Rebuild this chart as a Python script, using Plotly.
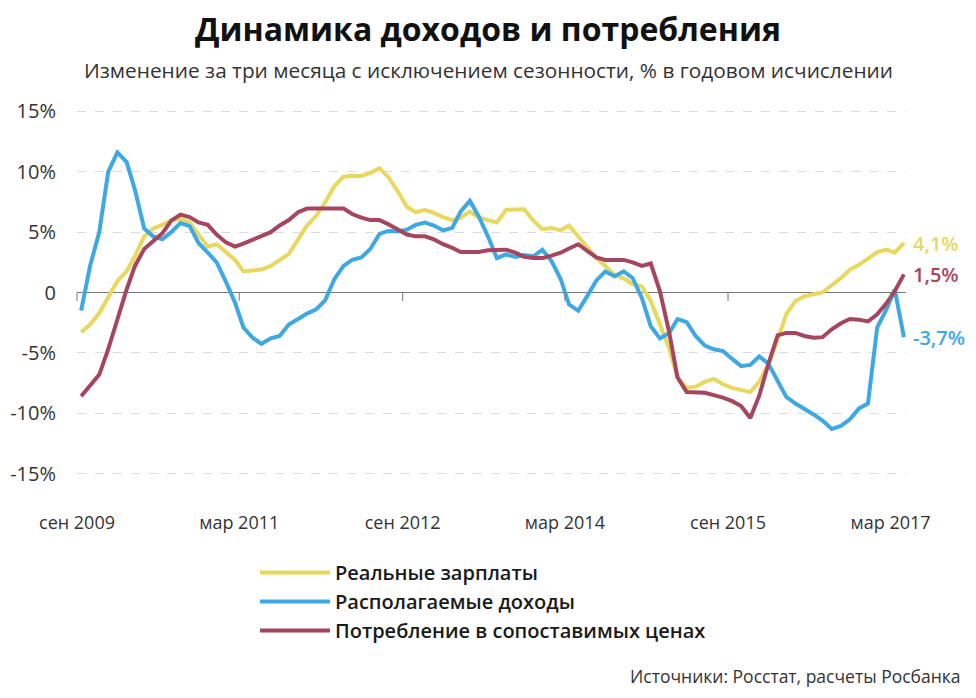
import pandas as pd
import plotly.graph_objects as go

# Monthly data, Sep 2009 .. Apr 2017 (% annualised, 3m/3m SA); plotted mid-month
months = pd.date_range("2009-09-01", periods=92, freq="MS") + pd.Timedelta(days=14)

wages = [-3.3, -2.65, -1.7, -0.45, 0.95, 1.75, 3.0, 4.65, 5.3, 5.6, 6.0, 6.1, 5.8, 4.8, 3.8, 4.0, 3.35, 2.7, 1.75, 1.8, 1.9, 2.2, 2.7, 3.2,
         4.4, 5.55, 6.35, 7.45, 8.8, 9.6, 9.65, 9.65, 9.9, 10.3, 9.55, 8.4, 7.1, 6.65, 6.85, 6.6, 6.25, 6.0, 6.2, 6.7, 6.2, 6.0, 5.8, 6.85,
         6.85, 6.9, 5.95, 5.25, 5.35, 5.15, 5.55, 4.65, 3.7, 2.85, 2.2, 1.45, 1.15, 0.7, 0.5, -0.7, -2.65, -4.65, -7.05, -7.9, -7.8, -7.4, -7.15, -7.6,
         -7.9, -8.05, -8.25, -7.4, -5.95, -3.9, -1.8, -0.7, -0.3, -0.15, 0.0, 0.6, 1.2, 1.9, 2.3, 2.8, 3.35, 3.55, 3.3, 4.1]

income = [-1.5, 2.2, 5.0, 10.0, 11.6, 10.8, 8.5, 5.3, 4.65, 4.4, 5.0, 5.75, 5.5, 4.1, 3.3, 2.5, 0.9, -0.85, -2.9, -3.75, -4.25, -3.8, -3.6, -2.65,
          -2.2, -1.75, -1.4, -0.65, 1.1, 2.2, 2.7, 2.9, 3.6, 4.85, 5.1, 5.05, 5.2, 5.6, 5.8, 5.55, 5.15, 5.35, 6.7, 7.6, 6.3, 4.65, 2.85, 3.15,
          2.95, 3.1, 3.0, 3.55, 2.6, 1.1, -1.0, -1.5, -0.3, 1.0, 1.75, 1.35, 1.75, 1.2, -0.45, -2.8, -3.8, -3.35, -2.2, -2.45, -3.6, -4.4, -4.7, -4.85,
          -5.5, -6.1, -6.0, -5.3, -5.9, -7.4, -8.65, -9.2, -9.6, -10.1, -10.6, -11.3, -11.05, -10.5, -9.6, -9.2, -2.9, -1.4, 0.25, -3.7]

consumption = [-8.6, -7.75, -6.8, -4.7, -2.1, 0.25, 2.2, 3.6, 4.25, 4.9, 5.95, 6.45, 6.25, 5.8, 5.6, 4.8, 4.15, 3.8, 4.05, 4.4, 4.7, 5.0, 5.55, 6.0,
               6.65, 6.95, 6.95, 6.95, 6.95, 6.95, 6.5, 6.2, 6.0, 6.0, 5.65, 5.25, 4.8, 4.65, 4.65, 4.4, 4.0, 3.7, 3.35, 3.35, 3.35, 3.5, 3.55, 3.55,
               3.3, 2.95, 2.85, 2.85, 3.05, 3.3, 3.65, 4.0, 3.45, 2.9, 2.7, 2.7, 2.7, 2.5, 2.2, 2.4, 0.1, -3.3, -7.05, -8.25, -8.3, -8.3, -8.5, -8.7,
               -9.0, -9.4, -10.4, -8.55, -5.9, -3.55, -3.35, -3.35, -3.6, -3.75, -3.7, -3.05, -2.55, -2.2, -2.25, -2.4, -1.8, -0.9, 0.1, 1.5]

series_names = ["Реальные зарплаты", "Располагаемые доходы", "Потребление в сопоставимых ценах"]
series_values = [wages, income, consumption]
series_colors = ["#E8D85E", "#3EA8E5", "#A5465E"]

x_tick_vals = ["2009-09-01", "2011-03-01", "2012-09-01", "2014-03-01", "2015-09-01", "2017-03-01"]
x_tick_text = ["сен 2009", "мар 2011", "сен 2012", "мар 2014", "сен 2015", "мар 2017"]
y_tick_vals = [15, 10, 5, 0, -5, -10, -15]
y_tick_text = ["15%", "10%", "5%", "0", "-5%", "-10%", "-15%"]

FONT = "Open Sans"
TXT = "#333333"
AXIS_GREY = "#777777"

fig = go.Figure()
for i, (name, vals, col) in enumerate(zip(series_names, series_values, series_colors)):
    fig.add_trace(go.Scatter(x=months, y=vals, mode="lines", name=name, legendgroup=f"g{i}",
                             line=dict(color=col, width=4)))

# end-of-line value labels
for vals, col in zip(series_values, series_colors):
    fig.add_annotation(x=months[-1], y=vals[-1], xref="x", yref="y",
                       text=f"{vals[-1]:.1f}%".replace(".", ","), showarrow=False,
                       xanchor="left", yanchor="middle", xshift=7,
                       font=dict(family=FONT, size=20, color=col, weight=600))

# small downward tick marks on the zero line
for tv in x_tick_vals:
    fig.add_annotation(x=tv, y=0, xref="x", yref="y", text="", showarrow=True,
                       arrowhead=0, arrowwidth=1, arrowcolor=AXIS_GREY,
                       ax=0, ay=10, standoff=0, startstandoff=0)

fig.add_annotation(xref="paper", yref="paper", x=0.4958, y=1.105,
                   text="Изменение за три месяца с исключением сезонности, % в годовом исчислении",
                   showarrow=False, xanchor="center", yanchor="middle",
                   font=dict(family=FONT, size=20.8, color=TXT))
fig.add_annotation(xref="paper", yref="paper", x=1.0688, y=-0.545,
                   text="Источники: Росстат, расчеты Росбанка",
                   showarrow=False, xanchor="right", yanchor="middle",
                   font=dict(family=FONT, size=17.5, color=TXT))

x_range = ["2009-09-01", "2017-04-22"]

# the page body adds an 8px offset; margins are reduced to compensate
fig.update_layout(
    width=976, height=698,
    margin=dict(l=69, r=78, t=101, b=230, autoexpand=False),
    paper_bgcolor="white", plot_bgcolor="white",
    font=dict(family=FONT, color=TXT),
    title=dict(text="<b>Динамика доходов и потребления</b>", x=480 / 976, xanchor="center",
               xref="container", y=1 - 22 / 698, yanchor="middle",
               font=dict(family=FONT, size=32, color="#111111")),
    showlegend=True,
    legend=dict(x=0.2147, y=-0.21, xanchor="left", yanchor="top",
                orientation="v", itemwidth=70, traceorder="normal",
                font=dict(family=FONT, size=20, color="#1a1a1a", weight=600),
                bgcolor="rgba(0,0,0,0)", tracegroupgap=2),
    xaxis=dict(range=x_range, tickmode="array", tickvals=x_tick_vals, ticktext=x_tick_text,
               showgrid=False, zeroline=False, showline=False, ticks="",
               ticklabelstandoff=34, automargin=False,
               tickfont=dict(family=FONT, size=18, color=TXT)),
    yaxis=dict(range=[-15.2, 15.2], tickmode="array", tickvals=y_tick_vals, ticktext=y_tick_text,
               showgrid=True, gridcolor="#dcdcdc", griddash="dash", gridwidth=1,
               zeroline=True, zerolinecolor=AXIS_GREY, zerolinewidth=1,
               showline=False, ticks="", ticklabelstandoff=20, automargin=False,
               tickfont=dict(family=FONT, size=20, color=TXT)),
)

fig.write_html("out.html")
